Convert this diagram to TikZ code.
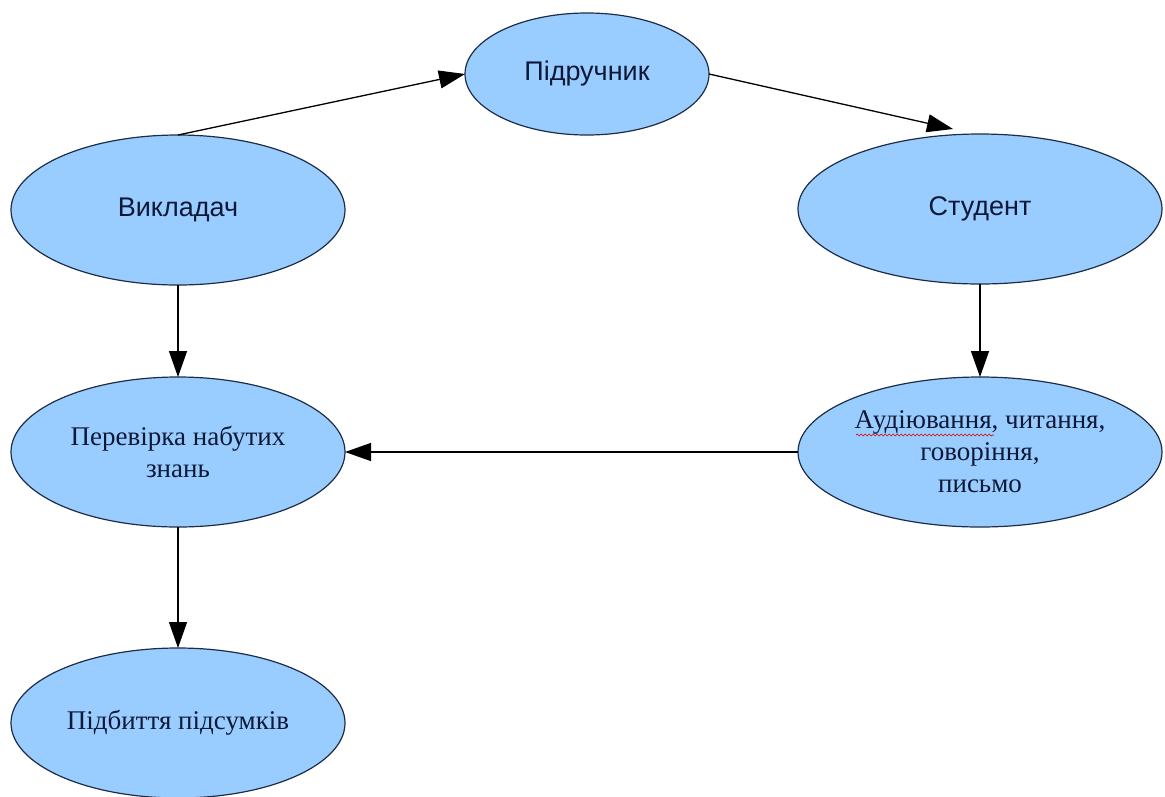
\documentclass[tikz,border=0pt]{standalone}
\usepackage{fontspec}
\setmainfont{Liberation Serif}
\newfontfamily\labelsans{Liberation Sans}
\usetikzlibrary{shapes.geometric,arrows.meta,calc,decorations.pathmorphing}
\definecolor{ellfill}{RGB}{153,204,255}
\definecolor{ellline}{RGB}{30,45,70}
\definecolor{txt}{RGB}{15,25,55}
\begin{document}
\begin{tikzpicture}[x=1pt,y=-1pt,
  ell/.style={ellipse,draw=ellline,line width=1.2pt,fill=ellfill,inner sep=0pt,outer sep=0pt,text=txt,align=center},
  bigell/.style={ell,minimum width=334pt,minimum height=150pt},
  wideell/.style={ell,minimum width=364pt,minimum height=150pt},
  sanslbl/.style={font=\labelsans\fontsize{27}{32}\selectfont},
  seriflbl/.style={font=\fontsize{27}{32}\selectfont},
  arr/.style={line width=1.3pt,draw=black,-{Triangle[length=26pt,width=18pt]}},
  squiggle/.style={draw=red!85!black,line width=0.6pt,decorate,decoration={snake,amplitude=1pt,segment length=4pt}}]
\useasboundingbox (0,0) rectangle (1165,796);
\node[ell,sanslbl,minimum width=244pt,minimum height=122pt] (pidr) at (587,74) {Підручник};
\node[bigell,sanslbl] (vykl) at (178,210) {Викладач};
\node[wideell,sanslbl] (stud) at (980,209) {Студент};
\node[bigell,seriflbl] (perev) at (178,452) {Перевірка набутих\\знань};
\node[wideell,seriflbl] (aud) at (980,452) {Аудіювання, читання,\\говоріння,\\письмо};
\node[bigell,seriflbl] (pidb) at (178,723) {Підбиття підсумків};
\draw[arr] (vykl.north) -- (pidr.west);
\draw[arr] (pidr.east) -- ($(stud.north)+(-27,-5)$);
\draw[arr] (vykl.south) -- (perev.north);
\draw[arr] (stud.south) -- (aud.north);
\draw[arr] (aud.west) -- (perev.east);
\draw[arr] (perev.south) -- (pidb.north);
\draw[squiggle] ($(aud.center)+(-124,-17)$) -- ($(aud.center)+(14,-17)$);
\end{tikzpicture}
\end{document}
